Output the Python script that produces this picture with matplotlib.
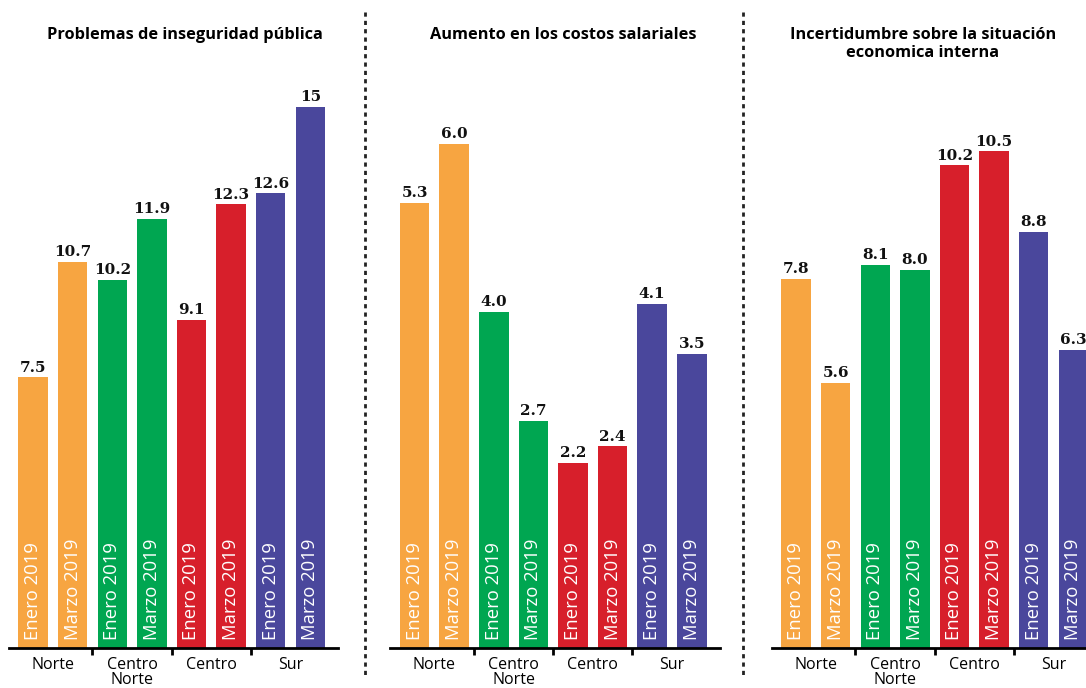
import matplotlib
matplotlib.use('Agg')
import matplotlib.pyplot as plt
from matplotlib.lines import Line2D

# Datos
regiones = ['Norte', 'Centro\nNorte', 'Centro', 'Sur']
periodos = ['Enero 2019', 'Marzo 2019']
colores = ['#F7A541', '#00A651', '#D71F2B', '#4A479C']

titulos = ['Problemas de inseguridad pública',
           'Aumento en los costos salariales',
           'Incertidumbre sobre la situación\neconomica interna']

inseguridad_enero = [7.5, 10.2, 9.1, 12.6]
inseguridad_marzo = [10.7, 11.9, 12.3, 15]
salarios_enero = [5.3, 4.0, 2.2, 4.1]
salarios_marzo = [6.0, 2.7, 2.4, 3.5]
incertidumbre_enero = [7.8, 8.1, 10.2, 8.8]
incertidumbre_marzo = [5.6, 8.0, 10.5, 6.3]

paneles = [
    (inseguridad_enero, inseguridad_marzo, '{:g}', 16.3),
    (salarios_enero, salarios_marzo, '{:.1f}', 7.0),
    (incertidumbre_enero, incertidumbre_marzo, '{:.1f}', 12.43),
]

W, H = 1086, 688
fig = plt.figure(figsize=(W / 100, H / 100), dpi=100)

sans = 'Open Sans'
serif = 'DejaVu Serif'

ax_left_px = [8.5, 390, 771.5]
ax_w_px = 329.5
ax_bottom = 40 / H
ax_h = 588 / H
titulo_x_px = [185, 563, 923]

for i, (enero, marzo, fmt, ytop) in enumerate(paneles):
    ax = fig.add_axes([ax_left_px[i] / W, ax_bottom, ax_w_px / W, ax_h])
    ax.set_xlim(-0.62, 7.7)
    ax.set_ylim(0, ytop)

    for g in range(4):
        for p, vals in enumerate([enero, marzo]):
            x = g * 2 + p
            v = vals[g]
            ax.bar(x, v, width=0.745, color=colores[g], zorder=2)
            ax.annotate(fmt.format(v), xy=(x, v), xytext=(0, 2),
                        textcoords='offset points', ha='center', va='bottom',
                        fontsize=11, fontweight='heavy', family=serif, color='#111111')
            ax.annotate(periodos[p], xy=(x, 0), xytext=(0, 5.5),
                        textcoords='offset points', ha='center', va='bottom',
                        rotation=90, fontsize=13.3, family=sans, color='white')

    for s in ['top', 'left', 'right']:
        ax.spines[s].set_visible(False)
    ax.spines['bottom'].set_linewidth(2)
    ax.spines['bottom'].set_zorder(3)
    ax.set_yticks([])
    ax.set_xticks([1.5, 3.5, 5.5])
    ax.set_xticklabels([])
    ax.tick_params(axis='x', which='major', length=5, width=2, direction='out')
    ax.set_xticks([0.5, 2.5, 4.5, 6.5], minor=True)
    ax.set_xticklabels(regiones, minor=True, fontsize=11.5, family=sans,
                       linespacing=0.9)
    ax.tick_params(axis='x', which='minor', length=0, pad=6.5)

    fig.text(titulo_x_px[i] / W, 1 - 27 / H, titulos[i], ha='center', va='top',
             fontsize=11.8, fontweight='bold', family=sans, linespacing=1.15)

# Separadores punteados
for xs in [365, 743]:
    fig.add_artist(Line2D([xs / W, xs / W], [1 - 12 / H, 1 - 678 / H],
                          color='#222222', lw=2, linestyle=(0, (1.5, 1.5))))

fig.savefig('out.png', dpi=100)
